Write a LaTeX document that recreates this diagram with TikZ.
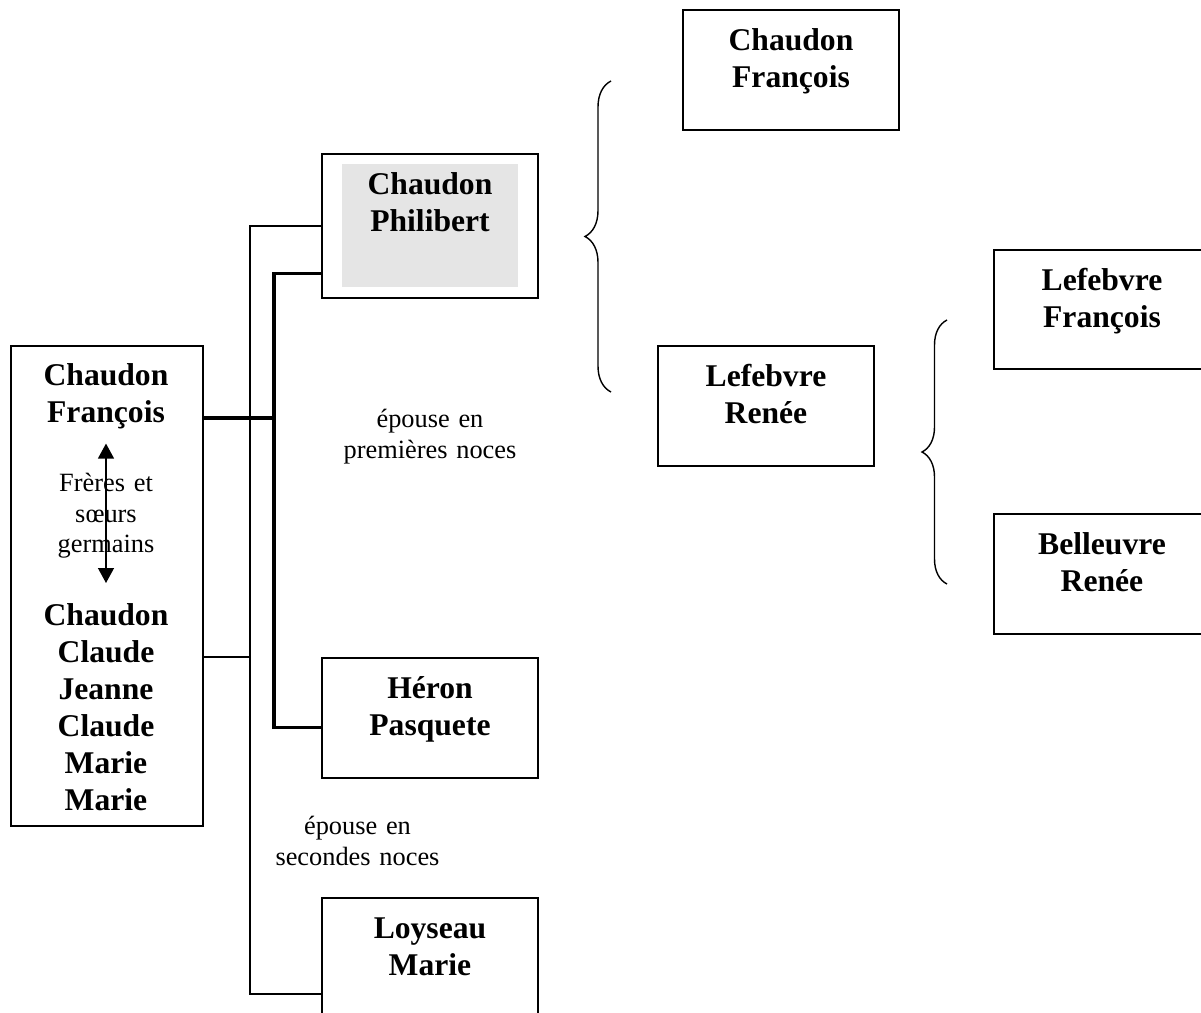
\documentclass[tikz,border=0pt]{standalone}
\usepackage{fontspec}
\setmainfont{Liberation Serif}
\usetikzlibrary{arrows.meta,decorations.pathreplacing}

\begin{document}
\begin{tikzpicture}[x=0.02cm,y=0.02cm,
    person/.style={draw,line width=0.9pt,anchor=north,inner sep=0pt,text width=4.32cm,
      align=center,text height=0.82cm,font=\bfseries\fontsize{18}{21}\selectfont},
    sibnames/.style={person,draw=none,text width=3.84cm},
    note/.style={anchor=north,inner sep=0pt,text width=4cm,align=center,text height=0.4cm,
      font=\fontsize{15}{17.5}\selectfont},
    link/.style={line width=0.9pt},
    marriage/.style={line width=1.8pt},
    sibling/.style={line width=1pt,{Triangle[length=8.5pt,width=9pt]}-{Triangle[length=8.5pt,width=9pt]}},
    parents/.style={decorate,decoration={brace,amplitude=#1},line width=0.8pt}]
  \useasboundingbox (0,0) rectangle (1201,-1012);

  % brothers and sisters
  \node[draw,line width=0.9pt,anchor=north west,inner sep=0pt,minimum width=3.84cm,minimum height=9.6cm] (sib) at (10,-345) {};
  \node[sibnames,text height=0.8cm,text depth=1.14cm] (fr) at (106,-345) {Chaudon\\François};
  \node[sibnames,text height=0.84cm] (sibs) at (106,-583) {Chaudon\\Claude\\Jeanne\\Claude\\Marie\\Marie};
  \node[note,text width=3.84cm] (germ) at (106,-471) {Frères et\\sœurs\\germains};
  \draw[sibling] (fr) -- (sibs);

  % parents and grand-parents
  \fill[gray!20] (342,-164) rectangle (518,-287);
  \node[person,text depth=2.06cm] (phil) at (430,-153) {Chaudon\\Philibert};
  \node[person,text depth=1.58cm] (heron) at (430,-657) {Héron\\Pasquete};
  \node[person,text depth=2.06cm] (loy) at (430,-897) {Loyseau\\Marie};
  \node[person,text depth=1.58cm] (chfr) at (791,-9) {Chaudon\\François};
  \node[person,text depth=1.58cm] (lere) at (766,-345) {Lefebvre\\Renée};
  \node[person,text depth=1.56cm] (lefr) at (1102,-249) {Lefebvre\\François};
  \node[person,text depth=1.58cm] (bere) at (1102,-513) {Belleuvre\\Renée};

  \node[note] (noces1) at (430,-407) {épouse en\\premières noces};
  \node[note] (noces2) at (357.5,-814) {épouse en\\secondes noces};

  % connectors
  \coordinate (j1) at (250,-657);
  \coordinate (j2) at (274,-418);
  \draw[link] (sib.east |- j1) -- (j1);
  \draw[link] (phil.west) -| (j1) |- ([yshift=-0.48cm]loy.west);
  \draw[marriage] (sib.east |- j2) -- (j2);
  \draw[marriage] ([yshift=-0.96cm]phil.west) -| (j2) |- ([yshift=-0.2cm]heron.west);

  % braces
  \coordinate (b1s) at (611,-392);
  \coordinate (b1e) at (611,-81);
  \coordinate (b2s) at (947,-584);
  \coordinate (b2e) at (947,-320);
  \draw[parents=0.52cm] (b1s) -- (b1e);
  \draw[parents=0.5cm] (b2s) -- (b2e);
\end{tikzpicture}
\end{document}
